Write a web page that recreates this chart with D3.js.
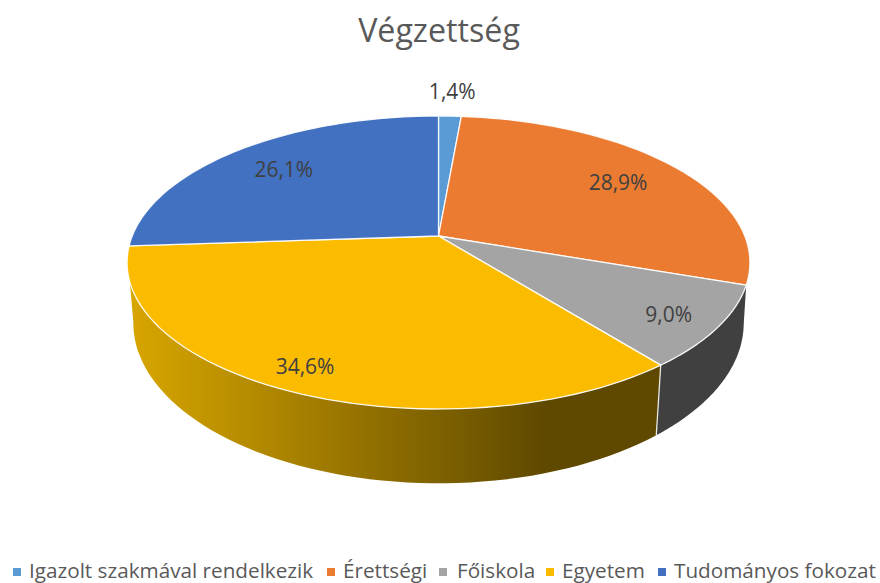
<!DOCTYPE html>
<html><head><meta charset="utf-8">
<style>html,body{margin:0;padding:0;background:#fff}svg{display:block}text{font-family:"Open Sans",sans-serif}</style>
<script src="https://cdn.jsdelivr.net/npm/d3@7/dist/d3.min.js"></script></head>
<body><svg id="c" width="880" height="583"></svg>
<script>
const categories=["Igazolt szakmával rendelkezik","Érettségi","Főiskola","Egyetem","Tudományos fokozat"];
const values=[1.4,28.9,9.0,34.6,26.1];
const labels=["1,4%","28,9%","9,0%","34,6%","26,1%"];
const colors=["#5B9BD5","#EB7B31","#A4A4A4","#FBBC00","#4271C1"];
const title="Végzettség";

const W=880,H=583,cx=438.5,cy=236,p=0.181,A=306.3,B=141.7;
const svg=d3.select("#c");
const deg=d=>d*Math.PI/180;
// perspective projection of the unit disc
const top_=(t,r=1)=>{const u=r*Math.sin(t),v=r*Math.cos(t),w=1+p*v;return [cx+A*u/w,cy-B*v/w];};
const low=(t)=>{const u=Math.sin(t),v=Math.cos(t),w=1+p*v;return [cx+0.98*A*u/w,294-155*v/w];};
const arcs=d3.pie().sort(null).value(d=>d).startAngle(0).endAngle(2*Math.PI)(values);
const samples=(a,b)=>d3.range(0,61).map(i=>a+(b-a)*i/60);
const line=d3.line();

const defs=svg.append("defs");
const g=defs.append("linearGradient").attr("id","wall").attr("gradientUnits","userSpaceOnUse")
 .attr("x1",130).attr("x2",545).attr("y1",0).attr("y2",0);
g.append("stop").attr("offset",0).attr("stop-color","#D8A600");
g.append("stop").attr("offset",1).attr("stop-color","#5F4900");

// side walls
const grey=arcs[2],yellow=arcs[3];
svg.append("path").attr("d",line([...samples(grey.startAngle,grey.endAngle).map(t=>top_(t)),...samples(grey.endAngle,deg(101)).map(low)])+"Z").attr("fill","#404040");
svg.append("path").attr("d",line([...samples(yellow.startAngle,deg(252)).map(t=>top_(t)),...samples(deg(260),yellow.startAngle).map(low)])+"Z").attr("fill","url(#wall)");
svg.append("path").attr("d",line([top_(yellow.startAngle),low(yellow.startAngle)])).attr("stroke","#fff").attr("stroke-opacity",.85).attr("stroke-width",1.3).attr("fill","none");

// top surface
svg.selectAll("path.slice").data(arcs).join("path").attr("class","slice")
 .attr("d",d=>line([[cx,cy],...samples(d.startAngle,d.endAngle).map(t=>top_(t))])+"Z")
 .attr("fill",(d,i)=>colors[i]).attr("stroke","#fff").attr("stroke-width",1.3).attr("stroke-linejoin","round").attr("stroke-opacity",.9);

// data labels
const labelRadius=[1.255,0.75,0.85,0.87,0.75], labelDx=[0,0,-3,-8,-1], labelDy=[0,0,2,-1,0];
svg.selectAll("text.lab").data(arcs).join("text").attr("class","lab")
 .attr("transform",(d,i)=>{const q=top_((d.startAngle+d.endAngle)/2,labelRadius[i]);return `translate(${q[0]+labelDx[i]},${q[1]+labelDy[i]})`;})
 .attr("text-anchor","middle").attr("dy","0.35em").attr("font-size",21).attr("fill","#404040").text((d,i)=>labels[i]);

svg.append("text").attr("x",439).attr("y",42).attr("text-anchor","middle").attr("font-size",32.2).attr("fill","#595959").text(title);

// legend
const markerX=[13,327,439,546,658], textX=[29,343,457,562,674];
const leg=svg.selectAll("g.l").data(categories).join("g").attr("class","l");
leg.append("rect").attr("x",(d,i)=>markerX[i]).attr("y",568).attr("width",8).attr("height",8).attr("fill",(d,i)=>colors[i]);
leg.append("text").attr("x",(d,i)=>textX[i]).attr("y",578).attr("font-size",20.7).attr("fill","#595959").text(d=>d);
</script></body></html>
